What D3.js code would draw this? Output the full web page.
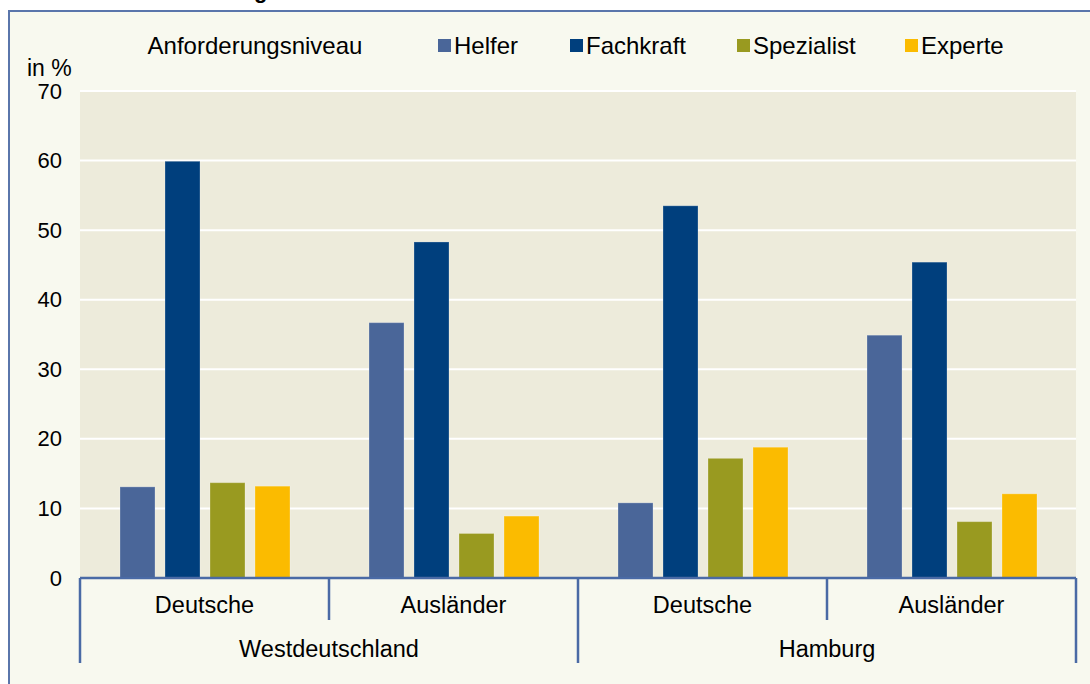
<!DOCTYPE html>
<html>
<head>
<meta charset="utf-8">
<script src="https://cdn.jsdelivr.net/npm/d3@7"></script>
<style>
  body { margin: 0; background: #fff; }
  svg { display: block; font-family: Arial, "Liberation Sans", sans-serif; }
</style>
</head>
<body>
<div id="chart"></div>
<script>
// ---- data ----
const regions = ["Westdeutschland", "Hamburg"];
const groups = ["Deutsche", "Ausländer"];
const series = ["Helfer", "Fachkraft", "Spezialist", "Experte"];
const helfer = [13.1, 36.7, 10.8, 34.9];
const fachkraft = [59.9, 48.3, 53.5, 45.4];
const spezialist = [13.7, 6.4, 17.2, 8.1];
const experte = [13.2, 8.9, 18.8, 12.1];
const yTicks = [0, 10, 20, 30, 40, 50, 60, 70];

const colors = ["#4a6699", "#003f7d", "#999a20", "#fbbb00"];
const values = [helfer, fachkraft, spezialist, experte];

// one entry per bar cluster
const clusters = [];
regions.forEach(r => groups.forEach(g => clusters.push({ region: r, group: g, key: r + "|" + g })));
clusters.forEach((c, i) => { c.vals = series.map((s, j) => ({ series: s, value: values[j][i], color: colors[j] })); });

const W = 1090, H = 684;
const plot = { left: 80, right: 1076, top: 91, bottom: 578 };

const svg = d3.select("#chart").append("svg").attr("width", W).attr("height", H);

// outer frame
svg.append("rect").attr("x", 0).attr("y", 0).attr("width", W).attr("height", H).attr("fill", "#fff");
svg.append("rect")
  .attr("x", 9).attr("y", 11).attr("width", W + 20).attr("height", H + 20)
  .attr("fill", "#f8f9ef").attr("stroke", "#5a76ab").attr("stroke-width", 2);

// cut-off title descender above the frame
svg.append("text").attr("x", 254).attr("y", -2)
  .style("font-size", "22px").style("font-weight", "bold").attr("fill", "#000").text("g");

// ---- scales ----
const x0 = d3.scaleBand().domain(clusters.map(c => c.key)).range([plot.left, plot.right]);
const x1 = d3.scaleBand().domain(series).range([40, 210]).paddingInner(0.222).paddingOuter(0);
const y = d3.scaleLinear().domain([0, 70]).range([plot.bottom, plot.top]);

// plot background
svg.append("rect")
  .attr("x", plot.left).attr("y", plot.top)
  .attr("width", plot.right - plot.left).attr("height", plot.bottom - plot.top)
  .attr("fill", "#edebdb");

// gridlines
svg.append("g").selectAll("line")
  .data(yTicks.filter(t => t > 0))
  .join("line")
  .attr("x1", plot.left).attr("x2", plot.right)
  .attr("y1", d => y(d)).attr("y2", d => y(d))
  .attr("stroke", "#fff").attr("stroke-width", 2);

// y axis labels
const yAxis = svg.append("g")
  .attr("transform", `translate(62,0)`)
  .call(d3.axisLeft(y).tickValues(yTicks).tickSize(0).tickPadding(0));
yAxis.select(".domain").remove();
yAxis.selectAll("text")
  .style("font-size", "22px").style("font-family", "Arial, 'Liberation Sans', sans-serif")
  .attr("fill", "#000");

svg.append("text").attr("x", 27).attr("y", 76)
  .style("font-size", "23px").attr("fill", "#000").text("in %");

// bars
const cl = svg.append("g").selectAll("g")
  .data(clusters)
  .join("g")
  .attr("transform", d => `translate(${x0(d.key)},0)`);

cl.selectAll("rect")
  .data(d => d.vals)
  .join("rect")
  .attr("x", d => x1(d.series))
  .attr("width", x1.bandwidth())
  .attr("y", d => y(d.value))
  .attr("height", d => y(0) - y(d.value))
  .attr("fill", d => d.color)
  .attr("stroke", "#ffffff").attr("stroke-opacity", 0.25).attr("stroke-width", 1);

// category axis
const axisColor = "#4a6aa5";
svg.append("line")
  .attr("x1", plot.left).attr("x2", plot.right)
  .attr("y1", plot.bottom).attr("y2", plot.bottom)
  .attr("stroke", axisColor).attr("stroke-width", 2.5);

// separators between clusters
const seps = clusters.map(c => x0(c.key)).concat([plot.right]);
svg.append("g").selectAll("line")
  .data(seps)
  .join("line")
  .attr("x1", d => d).attr("x2", d => d)
  .attr("y1", plot.bottom)
  .attr("y2", (d, i) => (i % 2 === 0 ? 663 : 620))
  .attr("stroke", axisColor).attr("stroke-width", 2.5);

// group labels
svg.append("g").selectAll("text")
  .data(clusters)
  .join("text")
  .attr("x", d => x0(d.key) + x0.bandwidth() / 2)
  .attr("y", 613)
  .attr("text-anchor", "middle")
  .style("font-size", "23.5px").attr("fill", "#000")
  .text(d => d.group);

// region labels
svg.append("g").selectAll("text")
  .data(regions)
  .join("text")
  .attr("x", r => {
    const ks = clusters.filter(c => c.region === r).map(c => x0(c.key));
    return (d3.min(ks) + d3.max(ks) + x0.bandwidth()) / 2;
  })
  .attr("y", 657)
  .attr("text-anchor", "middle")
  .style("font-size", "23.5px").attr("fill", "#000")
  .text(d => d);

// legend
svg.append("text").attr("x", 255).attr("y", 54)
  .attr("text-anchor", "middle")
  .style("font-size", "24px").attr("fill", "#000")
  .text("Anforderungsniveau");

const legendX = [438, 570, 737, 905];
const lg = svg.append("g").selectAll("g")
  .data(series)
  .join("g")
  .attr("transform", (d, i) => `translate(${legendX[i]},0)`);
lg.append("rect")
  .attr("x", 0).attr("y", 39).attr("width", 13).attr("height", 13)
  .attr("fill", (d, i) => colors[i]);
lg.append("text")
  .attr("x", 16).attr("y", 54)
  .style("font-size", "24px").attr("fill", "#000")
  .text(d => d);
</script>
</body>
</html>
